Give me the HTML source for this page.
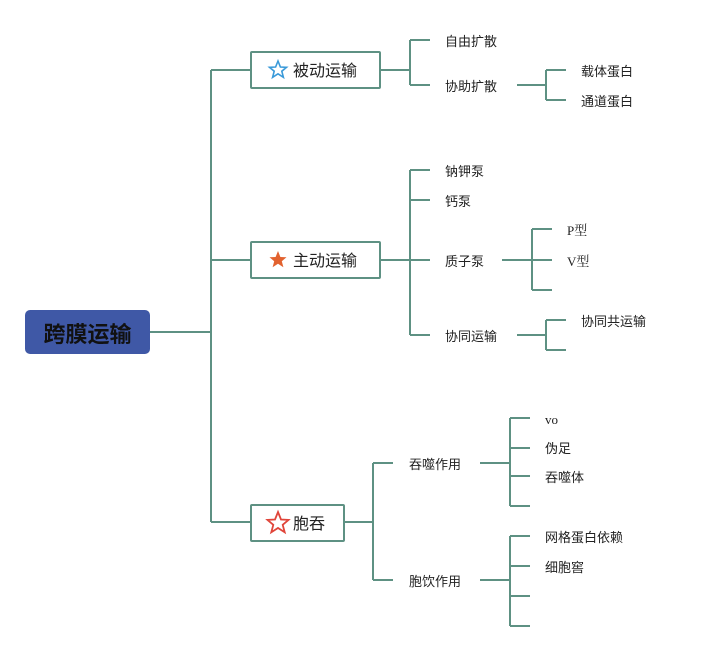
<!DOCTYPE html>
<html><head><meta charset="utf-8"><style>
html,body{margin:0;padding:0;background:#fff;}
svg text{font-family:"Liberation Sans","Noto Sans CJK SC",sans-serif;fill:#222;}
svg text.serif{font-family:"Liberation Serif","Noto Serif CJK SC",serif;}
</style></head><body>
<svg width="711" height="651" viewBox="0 0 711 651" xmlns="http://www.w3.org/2000/svg">
<g stroke="#5e9183" stroke-width="2" fill="none">
<path d="M150 332H211M211 70V522M211 70H251M211 260H251M211 522H251"/>
<path d="M380 70H410M410 40V85M410 40H430M410 85H430"/>
<path d="M517 85H546M546 70V100M546 70H566M546 100H566"/>
<path d="M380 260H410M410 170V335M410 170H430M410 200H430M410 260H430M410 335H430"/>
<path d="M502 260H532M532 229V290M532 229H552M532 260H552M532 290H552"/>
<path d="M517 335H546M546 320V350M546 320H566M546 350H566"/>
<path d="M344 522H373M373 463V580M373 463H393M373 580H393"/>
<path d="M480 463H510M510 418V506M510 418H530M510 448H530M510 476H530M510 506H530"/>
<path d="M480 580H510M510 536V626M510 536H530M510 566H530M510 596H530M510 626H530"/>
</g>
<rect x="25" y="310" width="125" height="44" rx="5" fill="#3f58a6"/>
<text x="87.5" y="342" text-anchor="middle" font-size="22" font-weight="bold" style="fill:#111">跨膜运输</text>
<g stroke="#5e9183" stroke-width="2" fill="#fff">
<rect x="251" y="52" width="129" height="36" rx="1"/>
<rect x="251" y="242" width="129" height="36" rx="1"/>
<rect x="251" y="505" width="93" height="36" rx="1"/>
</g>
<polygon points="278,61 280.4,67 286.5,67.3 281.8,71.2 283.4,77.3 278,73.8 272.6,77.3 274.2,71.2 269.5,67.3 275.6,67" fill="none" stroke="#3a9ad9" stroke-width="1.6"/>
<polygon points="278,251 280.4,257 286.5,257.3 281.8,261.2 283.4,267.3 278,263.8 272.6,267.3 274.2,261.2 269.5,257.3 275.6,257" fill="#e2622f"/>
<polygon points="278,512 281,519.5 288.5,519.9 282.7,524.8 284.7,532.3 278,528 271.3,532.3 273.3,524.8 267.5,519.9 275,519.5" fill="none" stroke="#e0453a" stroke-width="1.8"/>
<g font-size="16">
<text x="293" y="76">被动运输</text>
<text x="293" y="266">主动运输</text>
<text x="293" y="529">胞吞</text>
</g>
<g font-size="13">
<text x="445" y="46">自由扩散</text>
<text x="445" y="91">协助扩散</text>
<text x="581" y="76">载体蛋白</text>
<text x="581" y="106">通道蛋白</text>
<text x="445" y="176">钠钾泵</text>
<text x="445" y="206">钙泵</text>
<text x="445" y="266">质子泵</text>
<text x="445" y="341">协同运输</text>
<text x="567" y="235" class="serif">P型</text>
<text x="567" y="266" class="serif">V型</text>
<text x="581" y="326">协同共运输</text>
<text x="409" y="469">吞噬作用</text>
<text x="409" y="586">胞饮作用</text>
<text x="545" y="424" class="serif">vo</text>
<text x="545" y="453">伪足</text>
<text x="545" y="482">吞噬体</text>
<text x="545" y="542">网格蛋白依赖</text>
<text x="545" y="572">细胞窖</text>
</g>
</svg>
</body></html>
